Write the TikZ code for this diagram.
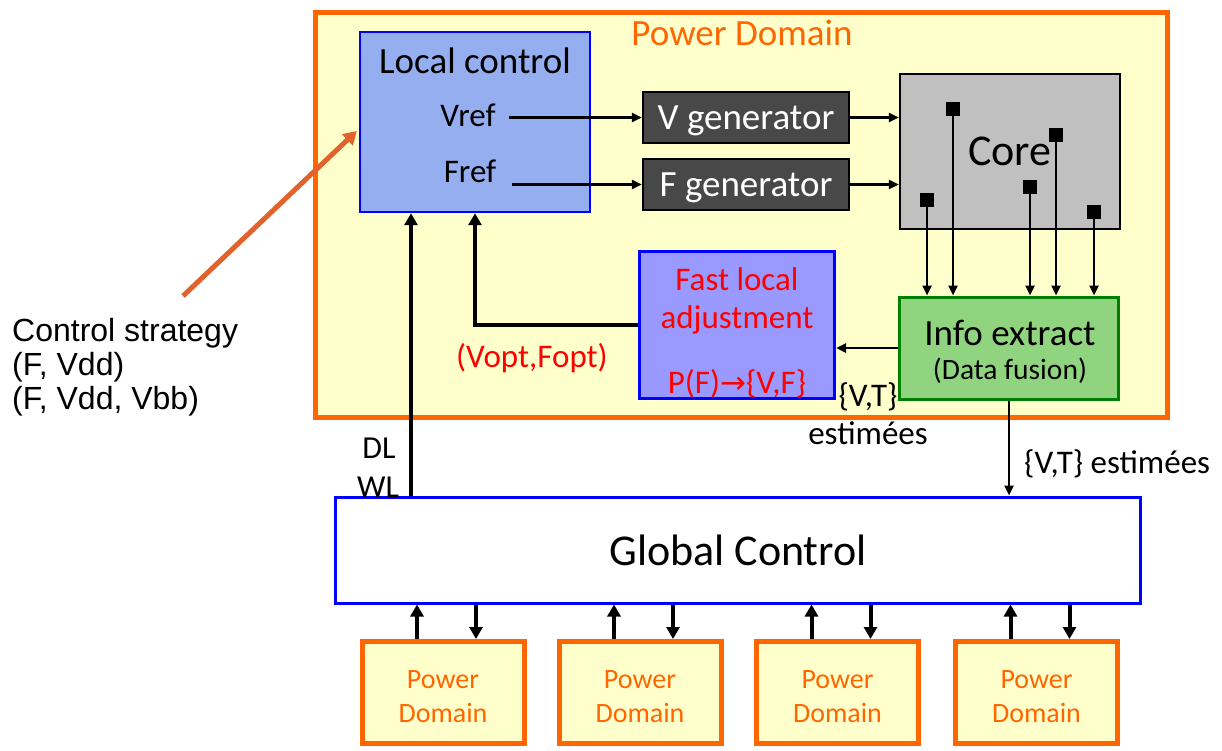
\documentclass[tikz,border=0pt]{standalone}
\usepackage{fontspec}
\setmainfont{Carlito}
\newfontfamily\arialfont{Liberation Sans}
\newfontfamily\symbolfont{DejaVu Sans}
\usepackage{xcolor}
\usepackage{tikz}
\usetikzlibrary{arrows.meta, calc}

\definecolor{pdorange}{RGB}{255,102,0}
\definecolor{pdyellow}{RGB}{255,255,204}
\definecolor{lcblue}{RGB}{148,174,240}
\definecolor{gengray}{RGB}{72,72,72}
\definecolor{coregray}{RGB}{192,192,192}
\definecolor{infogreen}{RGB}{144,212,128}
\definecolor{infoborder}{RGB}{0,128,0}
\definecolor{flablue}{RGB}{153,153,255}
\definecolor{stratorange}{RGB}{226,98,44}

\newcommand{\fsize}[1]{\fontsize{#1}{#1}\selectfont}

\begin{document}
\begin{tikzpicture}[x=1pt, y=-1pt,
    txt/.style={font=\fsize{#1}, inner sep=0pt, anchor=base},
    blk/.style={draw, line width=2.5pt, inner sep=0pt},
    arr/.style={-{Triangle[length=10pt,width=9pt]}, line width=2.4pt},
    bigarr/.style={-{Triangle[length=12pt,width=13pt]}, line width=4pt},
    pdbox/.style={draw=pdorange, fill=pdyellow, line width=5pt,
      minimum width=162pt, minimum height=102pt, inner sep=0pt},
    sq/.style={fill=black, minimum size=14pt, inner sep=0pt}]
  \useasboundingbox (0,0) rectangle (1222,751);

  % Power domain
  \node[pdbox, minimum width=852pt, minimum height=405pt] (pdmain) at (741.5,215) {};
  \node[txt=37, text=pdorange] (pdtitle) at (742,46) {Power Domain};

  % Local control
  \node[blk, draw=blue, line width=2.5pt, fill=lcblue,
    minimum width=230pt, minimum height=180pt] (lc) at (475,122) {};
  \node[txt=37] (lctitle) at (475,74) {Local control};
  \node[txt=33] (vref) at (468,127) {Vref};
  \node[txt=33] (fref) at (470,183) {Fref};

  % Generators
  \node[blk, fill=gengray, minimum width=206pt, minimum height=51pt] (vgen) at (746,117.5) {};
  \node[blk, fill=gengray, minimum width=206pt, minimum height=51pt] (fgen) at (746,184.5) {};
  \node[txt=37, text=white] (vgentxt) at (746,130) {V generator};
  \node[txt=37, text=white] (fgentxt) at (746,197) {F generator};

  % Core
  \node[blk, fill=coregray, minimum width=220pt, minimum height=155pt] (core) at (1010,151.5) {};
  \node[txt=44] (coretxt) at (1010,166) {Core};

  % Info extract
  \node[blk, draw=infoborder, line width=3pt, fill=infogreen,
    minimum width=219pt, minimum height=102pt] (info) at (1009,348) {};
  \node[txt=37] (infotxt) at (1010,345) {Info extract};
  \node[txt=29.5] (fusiontxt) at (1010,379) {(Data fusion)};

  % Fast local adjustment
  \node[blk, draw=blue, line width=3pt, fill=flablue,
    minimum width=195pt, minimum height=147pt] (fla) at (737,325) {};
  \node[txt=33, text=red] (flatxt) at (737,290) {Fast local};
  \node[txt=33, text=red] (adjtxt) at (737,328) {adjustment};
  \node[txt=33, text=red] (pftxt) at (737,393) {P(F){\symbolfont\fsize{31}→}\{V,F\}};

  % Global control
  \node[blk, draw=blue, line width=3pt, fill=white,
    minimum width=805pt, minimum height=106pt] (gc) at (737.5,550) {};
  \node[txt=44] (gctxt) at (738,565) {Global Control};

  % Labels
  \node[txt=33, text=red] (vopt) at (532,367) {(Vopt,Fopt)};
  \node[txt=33] (vt) at (868,406) {\{V,T\}};
  \node[txt=33] (est) at (868,444) {estimées};
  \node[txt=33, anchor=base west] (vtest) at (1024,473) {\{V,T\} estimées};
  \node[txt=32] (dl) at (379,458) {DL};
  \node[txt=32] (wl) at (378,497) {WL};

  % Control strategy
  \node[txt=32, font=\arialfont\fsize{32}, anchor=base west] (cs1) at (12,341) {Control strategy};
  \node[txt=32, font=\arialfont\fsize{32}, anchor=base west] (cs2) at (12,375) {(F, Vdd)};
  \node[txt=32, font=\arialfont\fsize{32}, anchor=base west] (cs3) at (12,409) {(F, Vdd, Vbb)};
  \coordinate (csstart) at (183,296);
  \draw[-{Triangle[length=13pt,width=15pt]}, line width=5pt, stratorange]
    (csstart) -- ($(lc.west)+(-2,9)$);

  % Arrows
  \coordinate (vrefout) at (509,0);
  \coordinate (frefout) at (512,0);
  \draw[arr] (vgen.west -| vrefout) -- (vgen.west);
  \draw[arr] (fgen.west -| frefout) -- (fgen.west);
  \draw[arr] (vgen.east) -- (vgen.east -| core.west);
  \draw[arr] (fgen.east) -- (fgen.east -| core.west);

  \foreach \i/\x/\y in {1/953/109, 2/1056/135, 3/927/200, 4/1030/187, 5/1094/212} {
    \node[sq] (sq\i) at (\x,\y) {};
    \draw[arr] (sq\i.south) -- (sq\i |- info.north);
  }

  \draw[arr] (info.west) -- (info.west -| fla.east);
  \draw[bigarr] (fla.west) -- (fla.west -| lc.south) -- (lc.south);
  \coordinate (dlwl) at (411,0);
  \draw[bigarr] (gc.north -| dlwl) -- (lc.south -| dlwl);
  \draw[arr] (info.south) -- (info.south |- gc.north);

  % Power domains below
  \foreach \i/\x in {1/443, 2/640, 3/837.5, 4/1036.5} {
    \node[pdbox] (pd\i) at (\x,692.5) {};
    \node[txt=28, text=pdorange] (pdp\i) at (\x,688) {Power};
    \node[txt=28, text=pdorange] (pdd\i) at (\x,722) {Domain};
    \coordinate (up\i) at ([xshift=-26pt]pd\i.north);
    \coordinate (dn\i) at ([xshift=33pt]pd\i.north);
    \draw[bigarr] (up\i) -- (up\i |- gc.south);
    \draw[bigarr] (dn\i |- gc.south) -- (dn\i);
  }
\end{tikzpicture}
\end{document}
